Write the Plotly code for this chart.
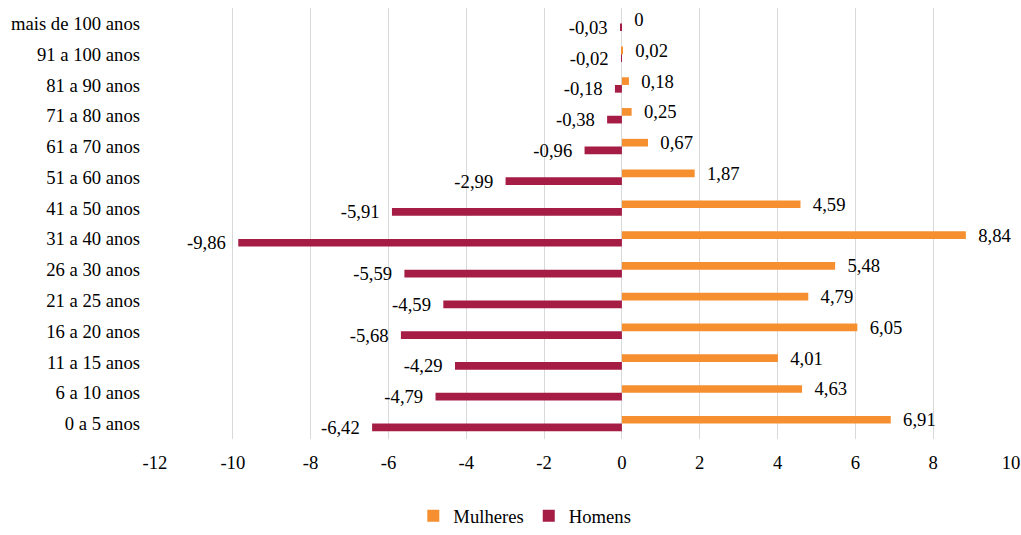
import plotly.graph_objects as go

categories = ["0 a 5 anos", "6 a 10 anos", "11 a 15 anos", "16 a 20 anos", "21 a 25 anos",
              "26 a 30 anos", "31 a 40 anos", "41 a 50 anos", "51 a 60 anos", "61 a 70 anos",
              "71 a 80 anos", "81 a 90 anos", "91 a 100 anos", "mais de 100 anos"]
mulheres = [6.91, 4.63, 4.01, 6.05, 4.79, 5.48, 8.84, 4.59, 1.87, 0.67, 0.25, 0.18, 0.02, 0]
homens = [-6.42, -4.79, -4.29, -5.68, -4.59, -5.59, -9.86, -5.91, -2.99, -0.96, -0.38, -0.18, -0.02, -0.03]
tick_vals = [-12, -10, -8, -6, -4, -2, 0, 2, 4, 6, 8, 10]


def fmt(v):
    if v == 0:
        return "0"
    return f"{v:.2f}".replace(".", ",")


FONT = "Liberation Serif"
FS = 18.67
SP = "\u2002"

fig = go.Figure()
fig.add_trace(go.Bar(
    y=categories, x=homens, orientation="h", name="Homens",
    marker=dict(color="#A51C45", line=dict(width=0)),
    text=[fmt(v) + SP for v in homens], textposition="outside", constraintext="none",
    textfont=dict(family=FONT, size=FS, color="#000000"),
    cliponaxis=False, legendrank=2,
))
fig.add_trace(go.Bar(
    y=categories, x=mulheres, orientation="h", name="Mulheres",
    marker=dict(color="#F58F2F", line=dict(width=0)),
    text=[SP + fmt(v) for v in mulheres], textposition="outside", constraintext="none",
    textfont=dict(family=FONT, size=FS, color="#000000"),
    cliponaxis=False, legendrank=1,
))

fig.update_layout(
    width=1021, height=535,
    margin=dict(l=155, r=10, t=8, b=96, autoexpand=False),
    barmode="group", bargap=0.5, bargroupgap=0,
    plot_bgcolor="white", paper_bgcolor="white",
    font=dict(family=FONT, size=FS, color="#000000"),
    xaxis=dict(range=[-12, 10], tickvals=tick_vals, ticktext=[str(v) for v in tick_vals],
               showgrid=True, gridcolor="#D9D9D9", gridwidth=1, automargin=False,
               zeroline=False, showline=False, ticks="", ticklabelstandoff=10,
               tickfont=dict(family=FONT, size=FS)),
    yaxis=dict(type="category", categoryorder="array", categoryarray=categories,
               showgrid=False, zeroline=False, showline=False, ticks="",
               ticklabelstandoff=14, automargin=False,
               tickfont=dict(family=FONT, size=FS)),
    legend=dict(orientation="h", xref="container", yref="container",
                x=0.514, xanchor="center", y=-0.011, yanchor="bottom",
                font=dict(family=FONT, size=FS), itemwidth=30, traceorder="normal",
                tracegroupgap=0),
)

fig.write_html("out.html")
